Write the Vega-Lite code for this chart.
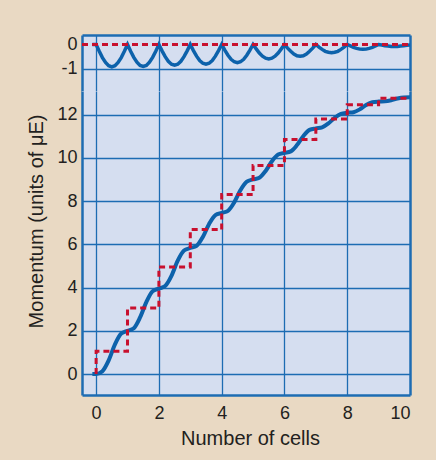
{
  "$schema": "https://vega.github.io/schema/vega-lite/v6.json",
  "background": "#e9d9c3",
  "padding": {"left": 25, "top": 35, "right": 40, "bottom": 30},
  "spacing": 0,
  "config": {
    "view": {"fill": "#d5def0", "stroke": null},
    "font": "Liberation Sans",
    "axis": {
      "labelFont": "Liberation Sans",
      "labelFontSize": 18,
      "labelColor": "#231f20",
      "titleFont": "Liberation Sans",
      "titleFontSize": 20,
      "titleFontWeight": "normal",
      "titleColor": "#231f20",
      "domainColor": "#1d6cb3",
      "domainWidth": 2.5,
      "gridColor": "#1d6cb3",
      "gridWidth": 1.3,
      "ticks": false,
      "labelPadding": 6
    }
  },
  "datasets": {
    "top": [
      {"x": -0.12, "y": 0}, {"x": 0, "y": 0},
      {"x": 0.1, "y": -0.28}, {"x": 0.2, "y": -0.54}, {"x": 0.3, "y": -0.74}, {"x": 0.4, "y": -0.87}, {"x": 0.5, "y": -0.92}, {"x": 0.6, "y": -0.87}, {"x": 0.7, "y": -0.74}, {"x": 0.8, "y": -0.54}, {"x": 0.9, "y": -0.28}, {"x": 1, "y": 0},
      {"x": 1.1, "y": -0.28}, {"x": 1.2, "y": -0.53}, {"x": 1.3, "y": -0.73}, {"x": 1.4, "y": -0.86}, {"x": 1.5, "y": -0.9}, {"x": 1.6, "y": -0.86}, {"x": 1.7, "y": -0.73}, {"x": 1.8, "y": -0.53}, {"x": 1.9, "y": -0.28}, {"x": 2, "y": 0},
      {"x": 2.1, "y": -0.26}, {"x": 2.2, "y": -0.5}, {"x": 2.3, "y": -0.69}, {"x": 2.4, "y": -0.81}, {"x": 2.5, "y": -0.85}, {"x": 2.6, "y": -0.81}, {"x": 2.7, "y": -0.69}, {"x": 2.8, "y": -0.5}, {"x": 2.9, "y": -0.26}, {"x": 3, "y": 0},
      {"x": 3.1, "y": -0.25}, {"x": 3.2, "y": -0.48}, {"x": 3.3, "y": -0.66}, {"x": 3.4, "y": -0.77}, {"x": 3.5, "y": -0.81}, {"x": 3.6, "y": -0.77}, {"x": 3.7, "y": -0.66}, {"x": 3.8, "y": -0.48}, {"x": 3.9, "y": -0.25}, {"x": 4, "y": 0},
      {"x": 4.1, "y": -0.23}, {"x": 4.2, "y": -0.44}, {"x": 4.3, "y": -0.61}, {"x": 4.4, "y": -0.71}, {"x": 4.5, "y": -0.75}, {"x": 4.6, "y": -0.71}, {"x": 4.7, "y": -0.61}, {"x": 4.8, "y": -0.44}, {"x": 4.9, "y": -0.23}, {"x": 5, "y": 0},
      {"x": 5.1, "y": -0.18}, {"x": 5.2, "y": -0.35}, {"x": 5.3, "y": -0.48}, {"x": 5.4, "y": -0.56}, {"x": 5.5, "y": -0.59}, {"x": 5.6, "y": -0.56}, {"x": 5.7, "y": -0.48}, {"x": 5.8, "y": -0.35}, {"x": 5.9, "y": -0.18}, {"x": 6, "y": 0},
      {"x": 6.1, "y": -0.15}, {"x": 6.2, "y": -0.28}, {"x": 6.3, "y": -0.39}, {"x": 6.4, "y": -0.46}, {"x": 6.5, "y": -0.48}, {"x": 6.6, "y": -0.46}, {"x": 6.7, "y": -0.39}, {"x": 6.8, "y": -0.28}, {"x": 6.9, "y": -0.15}, {"x": 7, "y": 0},
      {"x": 7.1, "y": -0.11}, {"x": 7.2, "y": -0.2}, {"x": 7.3, "y": -0.28}, {"x": 7.4, "y": -0.32}, {"x": 7.5, "y": -0.34}, {"x": 7.6, "y": -0.32}, {"x": 7.7, "y": -0.28}, {"x": 7.8, "y": -0.2}, {"x": 7.9, "y": -0.11}, {"x": 8, "y": 0},
      {"x": 8.1, "y": -0.06}, {"x": 8.2, "y": -0.12}, {"x": 8.3, "y": -0.16}, {"x": 8.4, "y": -0.19}, {"x": 8.5, "y": -0.2}, {"x": 8.6, "y": -0.19}, {"x": 8.7, "y": -0.16}, {"x": 8.8, "y": -0.12}, {"x": 8.9, "y": -0.06}, {"x": 9, "y": 0},
      {"x": 9.1, "y": -0.02}, {"x": 9.2, "y": -0.05}, {"x": 9.3, "y": -0.06}, {"x": 9.4, "y": -0.08}, {"x": 9.5, "y": -0.08}, {"x": 9.6, "y": -0.08}, {"x": 9.7, "y": -0.06}, {"x": 9.8, "y": -0.05}, {"x": 9.9, "y": -0.03}, {"x": 10, "y": -0.02}
    ],
    "topRed": [{"x": -0.45, "y": 0}, {"x": 10, "y": 0}],
    "main": [
      {"x": -0.12, "y": 0}, {"x": 0, "y": 0}, {"x": 0.2, "y": 0.13}, {"x": 0.4, "y": 0.63}, {"x": 0.6, "y": 1.37}, {"x": 0.8, "y": 1.87},
      {"x": 1, "y": 2.0}, {"x": 1.2, "y": 2.12}, {"x": 1.4, "y": 2.62}, {"x": 1.6, "y": 3.33}, {"x": 1.8, "y": 3.83},
      {"x": 2, "y": 3.95}, {"x": 2.2, "y": 4.07}, {"x": 2.4, "y": 4.54}, {"x": 2.6, "y": 5.24}, {"x": 2.8, "y": 5.71},
      {"x": 3, "y": 5.83}, {"x": 3.2, "y": 5.93}, {"x": 3.4, "y": 6.34}, {"x": 3.6, "y": 6.94}, {"x": 3.8, "y": 7.35},
      {"x": 4, "y": 7.45}, {"x": 4.2, "y": 7.55}, {"x": 4.4, "y": 7.94}, {"x": 4.6, "y": 8.51}, {"x": 4.8, "y": 8.9},
      {"x": 5, "y": 9.0}, {"x": 5.2, "y": 9.08}, {"x": 5.4, "y": 9.39}, {"x": 5.6, "y": 9.84}, {"x": 5.8, "y": 10.15},
      {"x": 6, "y": 10.23}, {"x": 6.2, "y": 10.3}, {"x": 6.4, "y": 10.59}, {"x": 6.6, "y": 11.0}, {"x": 6.8, "y": 11.29},
      {"x": 7, "y": 11.36}, {"x": 7.2, "y": 11.41}, {"x": 7.4, "y": 11.59}, {"x": 7.6, "y": 11.85}, {"x": 7.8, "y": 12.03},
      {"x": 8, "y": 12.08}, {"x": 8.2, "y": 12.11}, {"x": 8.4, "y": 12.24}, {"x": 8.6, "y": 12.44}, {"x": 8.8, "y": 12.57},
      {"x": 9, "y": 12.6}, {"x": 9.2, "y": 12.61}, {"x": 9.4, "y": 12.66}, {"x": 9.6, "y": 12.74}, {"x": 9.8, "y": 12.79},
      {"x": 10, "y": 12.8}
    ],
    "mainRed": [
      {"i": 0, "x": 0, "y": 0}, {"i": 1, "x": 0, "y": 1.05}, {"i": 2, "x": 1, "y": 1.05}, {"i": 3, "x": 1, "y": 3.05},
      {"i": 4, "x": 2, "y": 3.05}, {"i": 5, "x": 2, "y": 4.95}, {"i": 6, "x": 3, "y": 4.95}, {"i": 7, "x": 3, "y": 6.68},
      {"i": 8, "x": 4, "y": 6.68}, {"i": 9, "x": 4, "y": 8.3}, {"i": 10, "x": 5, "y": 8.3}, {"i": 11, "x": 5, "y": 9.65},
      {"i": 12, "x": 6, "y": 9.65}, {"i": 13, "x": 6, "y": 10.85}, {"i": 14, "x": 7, "y": 10.85}, {"i": 15, "x": 7, "y": 11.8},
      {"i": 16, "x": 8, "y": 11.8}, {"i": 17, "x": 8, "y": 12.45}, {"i": 18, "x": 9, "y": 12.45}, {"i": 19, "x": 9, "y": 12.75},
      {"i": 20, "x": 10, "y": 12.75}
    ]
  },
  "vconcat": [
    {
      "width": 328,
      "height": 56,
      "layer": [
        {
          "data": {"name": "top"},
          "mark": {"type": "line", "color": "#0d62ab", "strokeWidth": 3.5, "clip": true},
          "encoding": {
            "x": {
              "field": "x", "type": "quantitative",
              "scale": {"domain": [-0.45, 10], "nice": false, "zero": false},
              "axis": {
                "orient": "top", "values": [0, 1, 2, 3, 4, 5, 6, 7, 8, 9, 10], "labels": false, "title": null,
                "gridOpacity": {"condition": {"test": "datum.value > 9.9", "value": 0}, "value": 1}
              }
            },
            "y": {
              "field": "y", "type": "quantitative",
              "scale": {"domain": [-1.91, 0.39], "nice": false, "zero": false},
              "axis": {
                "values": [0, -1], "title": null, "labelPadding": 5,
                "labelExpr": "datum.value == -1 ? '-1' : datum.label",
                "gridOpacity": {"condition": {"test": "datum.value == 0", "value": 0}, "value": 1}
              }
            }
          }
        },
        {
          "data": {"name": "topRed"},
          "mark": {"type": "line", "color": "#c8102e", "strokeWidth": 3, "strokeDash": [6, 4], "clip": true},
          "encoding": {
            "x": {"field": "x", "type": "quantitative"},
            "y": {
              "field": "y", "type": "quantitative",
              "scale": {"domain": [-1.91, 0.39], "nice": false, "zero": false},
              "axis": {"orient": "right", "labels": false, "grid": false, "title": null}
            }
          }
        }
      ],
      "resolve": {"scale": {"y": "independent"}}
    },
    {
      "width": 328,
      "height": 304,
      "layer": [
        {
          "data": {"name": "main"},
          "mark": {"type": "line", "color": "#0d62ab", "strokeWidth": 4, "interpolate": "monotone", "clip": true},
          "encoding": {
            "x": {
              "field": "x", "type": "quantitative",
              "scale": {"domain": [-0.45, 10], "nice": false, "zero": false},
              "axis": {
                "values": [0, 1, 2, 3, 4, 5, 6, 7, 8, 9, 10],
                "labelExpr": "datum.value % 2 == 0 ? datum.label : ''",
                "labelPadding": 9,
                "title": "Number of cells", "titleX": 168, "titleY": 49, "titleBaseline": "alphabetic", "titleAlign": "center",
                "gridOpacity": {"condition": {"test": "datum.value > 9.9", "value": 0}, "value": 1}
              }
            },
            "y": {
              "field": "y", "type": "quantitative",
              "scale": {"domain": [-0.97, 13.09], "nice": false, "zero": false},
              "axis": {
                "values": [0, 2, 4, 6, 8, 10, 12], "labelPadding": 5,
                "title": "Momentum (units of μE)", "titleX": -40, "titleY": 130, "titleBaseline": "alphabetic", "titleAlign": "center"
              }
            }
          }
        },
        {
          "data": {"name": "mainRed"},
          "mark": {"type": "line", "color": "#c8102e", "strokeWidth": 3, "strokeDash": [6, 4], "clip": true},
          "encoding": {
            "x": {"field": "x", "type": "quantitative"},
            "y": {
              "field": "y", "type": "quantitative",
              "scale": {"domain": [-0.97, 13.09], "nice": false, "zero": false},
              "axis": {"orient": "right", "labels": false, "grid": false, "title": null}
            },
            "order": {"field": "i"}
          }
        }
      ],
      "resolve": {"scale": {"y": "independent"}}
    }
  ],
  "resolve": {"scale": {"x": "independent", "y": "independent"}}
}
